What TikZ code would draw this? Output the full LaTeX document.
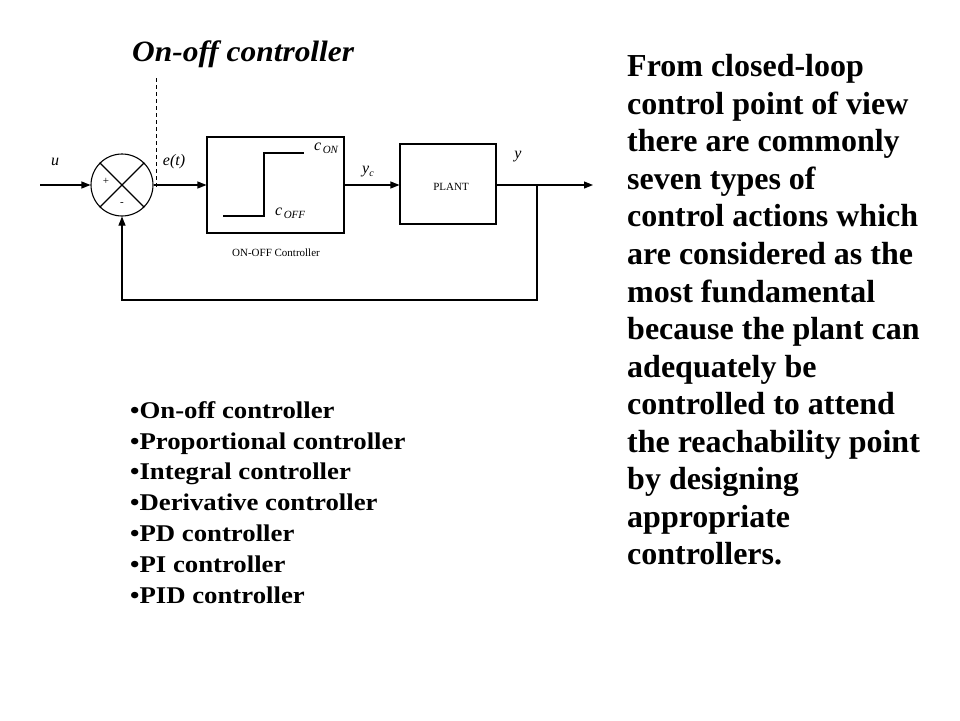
\documentclass[tikz,border=0pt]{standalone}
\usepackage{fontspec}
\setmainfont{Liberation Serif}
\usetikzlibrary{arrows.meta}
\tikzset{
  wire/.style={line width=1.1pt},
  arr/.style={wire,-{Triangle[length=9pt,width=7pt]}},
  blockbox/.style={draw,line width=1.1pt,rectangle,inner sep=0pt},
  mlab/.style={font=\fontsize{16}{18}\selectfont\itshape,inner sep=0pt},
  smalllab/.style={font=\fontsize{11}{12}\selectfont,inner sep=0pt},
  bigtext/.style={font=\fontsize{32}{37}\selectfont\bfseries,anchor=base west,inner sep=0pt},
  listtext/.style={font=\fontsize{24}{28}\selectfont\bfseries, anchor=base west,inner sep=0pt},
}
\begin{document}
\begin{tikzpicture}[x=1pt,y=-1pt]
\useasboundingbox (0,0) rectangle (960,720);
% title
\node[anchor=base west,inner sep=0pt,font=\fontsize{29.5}{32}\selectfont\bfseries\itshape] (title) at (132,61.7) {\scalebox{1.065}[1]{On-off controller}};
% dashed line
\coordinate (dtop) at (156,78);
\coordinate (dbot) at (156,188);
\draw[line width=1pt,dash pattern=on 4pt off 3pt] (dtop) -- (dbot);
% summing junction
\node[draw,circle,line width=1.1pt,minimum size=62pt,inner sep=0pt] (sum) at (122,185) {};
\draw[wire] (sum.north west) -- (sum.south east);
\draw[wire] (sum.north east) -- (sum.south west);
\node[smalllab,font=\fontsize{11}{12}\selectfont] (plus) at (106,181) {+};
\node[smalllab,font=\fontsize{11}{12}\selectfont] (minus) at (122,204) {-};
% blocks
\node[blockbox,minimum width=137pt,minimum height=96pt] (ctrl) at (275.5,185) {};
\node[blockbox,minimum width=96pt,minimum height=80pt] (plant) at (448,184) {};
\node[smalllab] (planttxt) at (451,187) {PLANT};
\node[smalllab] (ctrltxt) at (276,253) {ON-OFF Controller};
% step characteristic
\coordinate (s1) at (223,216);
\coordinate (s2) at (264,216);
\coordinate (s3) at (264,153);
\coordinate (s4) at (304,153);
\draw[wire] (s1) -- (s2) -- (s3) -- (s4);
\node[mlab,anchor=west] (con) at (314,148) {c\hspace{1.5pt}\raisebox{-0.35ex}{\fontsize{11}{12}\selectfont ON}};
\node[mlab,anchor=west] (coff) at (275,213) {c\hspace{1.5pt}\raisebox{-0.35ex}{\fontsize{11}{12}\selectfont OFF}};
% signals
\coordinate (in) at (40,185);
\coordinate (out) at (593,185);
\coordinate (br) at (537,185);
\coordinate (fb1) at (537,300);
\coordinate (fb2) at (122,300);
\draw[arr] (in) -- (sum.west);
\draw[arr] (sum.east) -- (ctrl.west);
\draw[arr] (ctrl.east) -- (plant.west |- ctrl.east);
\draw[arr] (plant.east |- br) -- (out);
\draw[arr] (br) -- (fb1) -- (fb2) -- (sum.south);
\node[mlab] (ulab) at (55,162) {u};
\node[mlab] (elab) at (174,162) {e(t)};
\node[mlab] (yclab) at (368,172) {y\raisebox{-0.4ex}{\fontsize{10}{12}\selectfont c}};
\node[mlab] (ylab) at (518,157) {y};
% list
\foreach \t [count=\i] in {On-off controller,Proportional controller,Integral controller,Derivative controller,PD controller,PI controller,PID controller}
  \node[listtext] (l\i) at (130,{418.3+30.8*(\i-1)}) {\scalebox{1.115}[1]{•\t}};
% right text
\foreach \t [count=\i] in {From closed-loop,control point of view,there are commonly,seven types of,control actions which,are considered as the,most fundamental,because the plant can,adequately be,controlled to attend,the reachability point,by designing,appropriate,controllers.}
  \node[bigtext] (r\i) at (627,{76.7+37.56*(\i-1)}) {\t};
\end{tikzpicture}
\end{document}
